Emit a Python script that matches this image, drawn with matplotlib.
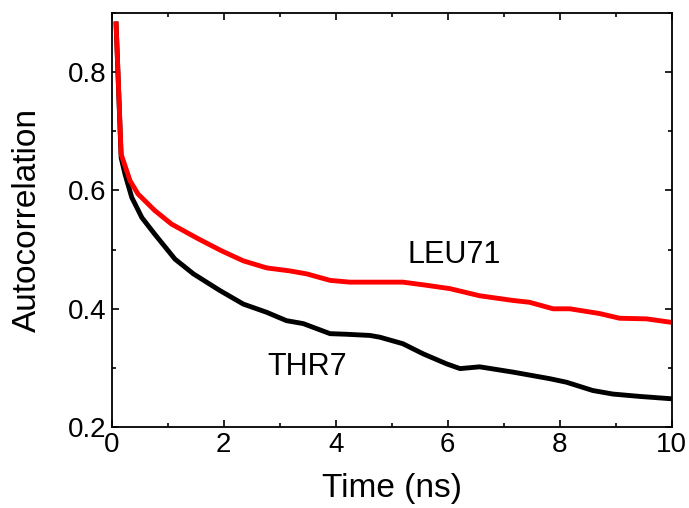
import matplotlib
matplotlib.use("Agg")
import matplotlib.pyplot as plt
from matplotlib.ticker import MultipleLocator

# LEU71 (red)
leu_t = [0.08, 0.17, 0.33, 0.47, 0.77, 1.07, 1.55, 1.96, 2.35, 2.77, 3.18, 3.48, 3.90, 4.25,
         4.79, 5.20, 5.6, 6.04, 6.57, 7.17, 7.46, 7.88, 8.18, 8.71, 9.07, 9.55, 10.0]
leu_y = [0.881, 0.661, 0.616, 0.594, 0.566, 0.543, 0.518, 0.498, 0.481, 0.469, 0.464, 0.459, 0.448, 0.445,
         0.445, 0.445, 0.440, 0.434, 0.422, 0.414, 0.411, 0.400, 0.400, 0.392, 0.384, 0.383, 0.377]

# THR7 (black)
thr_t = [0.08, 0.17, 0.24, 0.36, 0.54, 0.77, 1.13, 1.46, 1.93, 2.35, 2.77, 3.12, 3.42, 3.90, 4.19,
         4.61, 4.79, 5.20, 5.56, 5.98, 6.22, 6.57, 7.17, 7.82, 8.12, 8.59, 8.95, 9.43, 10.0]
thr_y = [0.881, 0.655, 0.627, 0.588, 0.554, 0.526, 0.484, 0.459, 0.431, 0.408, 0.394, 0.380, 0.375, 0.358, 0.357,
         0.355, 0.352, 0.341, 0.324, 0.307, 0.299, 0.302, 0.293, 0.282, 0.276, 0.262, 0.256, 0.252, 0.248]

plt.rcParams['font.family'] = ['Liberation Sans', 'DejaVu Sans']

fig = plt.figure(figsize=(6.89, 5.08), dpi=100)
ax = fig.add_axes([0.162, 0.159, 0.813, 0.816])

ax.plot(thr_t, thr_y, color='black', lw=3.5, solid_joinstyle='round')
ax.plot(leu_t, leu_y, color='#ff0000', lw=3.5, solid_joinstyle='round')

ax.text(6.11, 0.491, 'LEU71', fontsize=22, ha='center', va='center')
ax.text(3.50, 0.301, 'THR7', fontsize=22, ha='center', va='center')

ax.set_xlim(0, 10)
ax.set_ylim(0.2, 0.9)
ax.xaxis.set_major_locator(MultipleLocator(2))
ax.xaxis.set_minor_locator(MultipleLocator(1))
ax.yaxis.set_major_locator(MultipleLocator(0.2))
ax.yaxis.set_minor_locator(MultipleLocator(0.1))
ax.tick_params(which='both', direction='in', top=True, right=True, width=1.2, labelsize=20)
ax.tick_params(which='major', length=5)
ax.tick_params(which='minor', length=3)
ax.set_yticks([0.2, 0.4, 0.6, 0.8])
ax.set_yticklabels(['0.2', '0.4', '0.6', '0.8'])
for s in ax.spines.values():
    s.set_linewidth(1.3)

ax.set_xlabel('Time (ns)', fontsize=24, labelpad=11)
ax.set_ylabel('Autocorrelation', fontsize=24, labelpad=18)

fig.savefig('out.png', dpi=100)
